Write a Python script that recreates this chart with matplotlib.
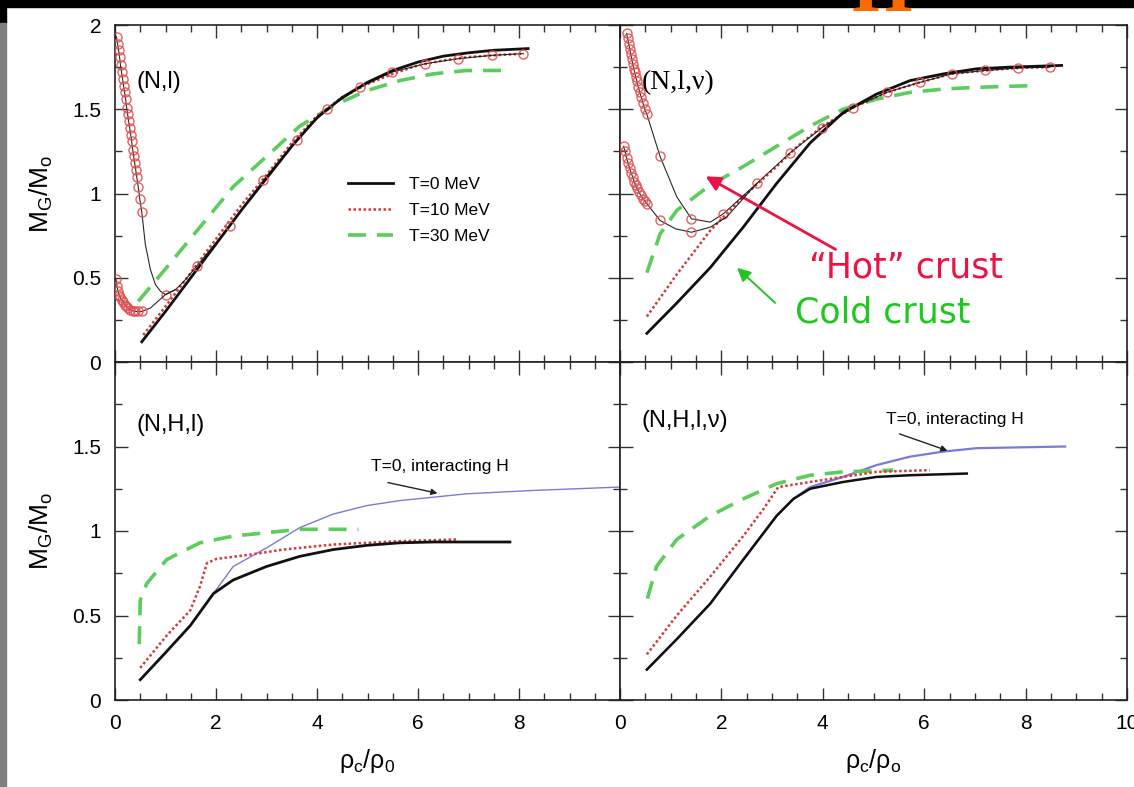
import numpy as np
import matplotlib
matplotlib.use("Agg")
import matplotlib.pyplot as plt
from matplotlib.patches import Rectangle
from matplotlib.ticker import MultipleLocator

plt.rcParams['font.family'] = ['Liberation Sans', 'DejaVu Sans']
plt.rcParams['mathtext.fontset'] = 'custom'
plt.rcParams['mathtext.rm'] = 'Liberation Sans'
plt.rcParams['mathtext.it'] = 'Liberation Sans'

# ---- (N,l) ----
nl_t0_x = [0.53, 1.0, 1.5, 2.0, 2.5, 3.0, 3.5, 4.0, 4.5, 5.0, 5.5, 6.0, 6.5, 7.0, 7.5, 8.18]
nl_t0_y = [0.12, 0.30, 0.50, 0.70, 0.90, 1.09, 1.28, 1.45, 1.57, 1.66, 1.73, 1.78, 1.815, 1.835, 1.85, 1.86]
nl_t10_x = [0.56, 1.0, 1.5, 2.0, 2.5, 3.0, 3.5, 4.0, 4.5, 5.0, 5.5, 6.0, 6.5, 7.0, 7.5, 8.1]
nl_t10_y = [0.16, 0.33, 0.53, 0.73, 0.93, 1.11, 1.30, 1.46, 1.57, 1.65, 1.71, 1.76, 1.79, 1.81, 1.82, 1.83]
nl_t30_x = [0.46, 1.02, 1.68, 2.34, 3.0, 3.66, 4.32, 4.98, 5.64, 6.3, 6.96, 7.72]
nl_t30_y = [0.36, 0.56, 0.80, 1.04, 1.22, 1.40, 1.52, 1.61, 1.67, 1.71, 1.73, 1.73]
nl_hotA_x = [0.03, 0.05, 0.07, 0.09, 0.11, 0.13, 0.15, 0.17, 0.19, 0.21, 0.23, 0.25,
             0.27, 0.29, 0.31, 0.33, 0.35, 0.37, 0.39, 0.41, 0.43, 0.46, 0.49, 0.53,
             0.6, 0.7, 0.8, 0.9, 1.0, 1.2, 1.4, 1.62, 2.28, 2.94, 3.6, 4.19, 4.85,
             5.48, 6.14, 6.8, 7.46, 8.08]
nl_hotA_y = [1.93, 1.89, 1.85, 1.81, 1.76, 1.72, 1.68, 1.64, 1.60, 1.56, 1.51, 1.47,
             1.43, 1.39, 1.35, 1.31, 1.26, 1.22, 1.18, 1.14, 1.10, 1.04, 0.97, 0.89,
             0.70, 0.55, 0.46, 0.42, 0.40, 0.43, 0.49, 0.57, 0.81, 1.08, 1.32, 1.50, 1.63,
             1.72, 1.77, 1.80, 1.82, 1.83]
nl_hotA_mark = list(range(24)) + [28, 31] + list(range(32, 42))
nl_hotB_x = [0.02, 0.04, 0.06, 0.08, 0.10, 0.13, 0.16, 0.19, 0.22, 0.26, 0.30, 0.35,
             0.40, 0.46, 0.53, 0.7, 0.85, 1.0, 1.2]
nl_hotB_y = [0.49, 0.45, 0.42, 0.40, 0.385, 0.37, 0.355, 0.34, 0.33, 0.32, 0.31, 0.305,
             0.30, 0.30, 0.30, 0.32, 0.36, 0.40, 0.43]
nl_hotB_mark = list(range(15))

# ---- (N,l,nu) ----
nln_t0_x = [0.53, 1.12, 1.78, 2.43, 3.09, 3.75, 4.4, 5.06, 5.72, 6.38, 7.03, 7.69, 8.71]
nln_t0_y = [0.17, 0.35, 0.56, 0.80, 1.06, 1.30, 1.48, 1.59, 1.67, 1.71, 1.74, 1.75, 1.76]
nln_t10_x = [0.53, 1.12, 1.78, 2.43, 3.09, 3.5, 4.0, 4.6, 5.26, 5.92, 6.54, 7.2, 7.85, 8.48]
nln_t10_y = [0.27, 0.52, 0.78, 0.98, 1.16, 1.28, 1.40, 1.51, 1.60, 1.66, 1.71, 1.73, 1.745, 1.75]
nln_t30_x = [0.53, 0.79, 1.12, 1.78, 2.43, 3.09, 3.75, 4.4, 5.06, 5.72, 6.38, 7.03, 8.12]
nln_t30_y = [0.53, 0.76, 0.90, 1.05, 1.16, 1.28, 1.40, 1.50, 1.56, 1.60, 1.62, 1.63, 1.64]
nln_hotA_x = [0.13, 0.15, 0.17, 0.19, 0.21, 0.23, 0.25, 0.27, 0.29, 0.31, 0.33, 0.36,
              0.39, 0.42, 0.45, 0.49, 0.53, 0.79, 1.12, 1.41, 1.78, 2.04, 2.70, 3.35,
              3.98, 4.6, 5.26, 5.92, 6.54, 7.2, 7.85, 8.48]
nln_hotA_y = [1.95, 1.92, 1.89, 1.86, 1.83, 1.80, 1.77, 1.74, 1.72, 1.69, 1.67, 1.63,
              1.60, 1.57, 1.54, 1.50, 1.47, 1.22, 0.98, 0.85, 0.83, 0.88, 1.06, 1.24,
              1.39, 1.51, 1.60, 1.66, 1.71, 1.73, 1.745, 1.75]
nln_hotA_mark = list(range(18)) + [19] + list(range(21, 32))
nln_hotB_x = [0.07, 0.10, 0.13, 0.16, 0.19, 0.22, 0.25, 0.28, 0.31, 0.34, 0.37, 0.41,
              0.45, 0.49, 0.53, 0.79, 1.1, 1.41, 1.78, 2.1, 2.4, 2.7]
nln_hotB_y = [1.28, 1.25, 1.21, 1.18, 1.15, 1.12, 1.10, 1.07, 1.05, 1.03, 1.01, 0.99,
              0.97, 0.955, 0.94, 0.84, 0.79, 0.77, 0.80, 0.86, 0.96, 1.06]
nln_hotB_mark = list(range(16)) + [17]

# ---- (N,H,l) ----
nhl_t0_x = [0.5, 1.0, 1.49, 1.95, 2.34, 3.0, 3.66, 4.32, 4.98, 5.64, 6.3, 7.82]
nhl_t0_y = [0.12, 0.28, 0.44, 0.63, 0.71, 0.79, 0.85, 0.89, 0.915, 0.93, 0.935, 0.935]
nhl_int_x = [1.95, 2.34, 3.0, 3.66, 4.32, 4.98, 5.64, 6.3, 6.96, 8.28, 10.0]
nhl_int_y = [0.63, 0.79, 0.90, 1.02, 1.10, 1.15, 1.18, 1.20, 1.22, 1.24, 1.26]
nhl_t10_x = [0.5, 1.02, 1.49, 1.68, 1.82, 2.01, 2.67, 3.33, 4.32, 5.64, 6.76]
nhl_t10_y = [0.19, 0.38, 0.53, 0.67, 0.81, 0.835, 0.86, 0.89, 0.92, 0.94, 0.95]
nhl_t30_x = [0.48, 0.5, 0.63, 1.02, 1.68, 2.34, 3.0, 3.66, 4.82]
nhl_t30_y = [0.33, 0.59, 0.69, 0.83, 0.93, 0.97, 0.99, 1.01, 1.01]

# ---- (N,H,l,nu) ----
nhln_t0_x = [0.53, 1.12, 1.78, 2.43, 3.09, 3.42, 3.75, 4.4, 5.06, 5.72, 6.84]
nhln_t0_y = [0.18, 0.36, 0.57, 0.83, 1.09, 1.19, 1.25, 1.29, 1.32, 1.33, 1.34]
nhln_int_x = [0.53, 1.12, 1.78, 2.43, 3.09, 3.42, 3.75, 4.4, 5.06, 5.72, 6.38, 7.03, 8.78]
nhln_int_y = [0.18, 0.36, 0.57, 0.83, 1.09, 1.19, 1.26, 1.32, 1.39, 1.44, 1.47, 1.49, 1.50]
nhln_t10_x = [0.53, 1.12, 1.78, 2.43, 2.83, 3.12, 3.75, 4.4, 5.06, 6.11]
nhln_t10_y = [0.27, 0.50, 0.73, 0.97, 1.13, 1.26, 1.29, 1.32, 1.35, 1.36]
nhln_t30_x = [0.54, 0.72, 1.12, 1.78, 2.43, 3.09, 3.75, 4.4, 5.39]
nhln_t30_y = [0.60, 0.79, 0.95, 1.09, 1.19, 1.28, 1.33, 1.35, 1.36]

xticks = [0, 2, 4, 6, 8, 10]
yticks = [0, 0.5, 1, 1.5, 2]

c_black = '#111111'
c_red = '#d23a3a'
c_green = '#5ccd5c'
c_blue = '#7a7ad8'
c_mark = '#e05050'

fig = plt.figure(figsize=(11.34, 7.87), dpi=100)
fig.patch.set_facecolor('white')

W, H = 1134.0, 787.0
def box(x0, y0, x1, y1):
    return [x0 / W, 1 - y1 / H, (x1 - x0) / W, (y1 - y0) / H]

ax_tl = fig.add_axes(box(115, 25, 620, 362))
ax_tr = fig.add_axes(box(620, 25, 1127, 362))
ax_bl = fig.add_axes(box(115, 362, 620, 700))
ax_br = fig.add_axes(box(620, 362, 1127, 700))

for ax in (ax_tl, ax_tr, ax_bl, ax_br):
    ax.set_xlim(0, 10)
    ax.set_ylim(0, 2)
    ax.xaxis.set_major_locator(MultipleLocator(2))
    ax.xaxis.set_minor_locator(MultipleLocator(0.5))
    ax.yaxis.set_major_locator(MultipleLocator(0.5))
    ax.yaxis.set_minor_locator(MultipleLocator(0.25))
    ax.tick_params(which='both', direction='in', top=True, right=True, labelsize=15,
                   width=1.0, color='#333333')
    ax.tick_params(which='major', length=9, pad=10)
    ax.tick_params(which='minor', length=5)
    ax.tick_params(labelbottom=False, labelleft=False)
    for s in ax.spines.values():
        s.set_linewidth(1.2)
        s.set_color('#222222')

ax_tl.tick_params(labelleft=True)
ax_tl.set_yticks(yticks)
ax_tl.set_yticklabels(['0', '0.5', '1', '1.5', '2'])
ax_bl.tick_params(labelleft=True, labelbottom=True)
ax_bl.set_yticks(yticks)
ax_bl.set_yticklabels(['0', '0.5', '1', '1.5', ''])
ax_bl.set_xticks(xticks)
ax_bl.set_xticklabels(['0', '2', '4', '6', '8', ''])
ax_br.tick_params(labelbottom=True)
ax_br.set_xticks(xticks)
ax_br.set_xticklabels(['0', '2', '4', '6', '8', '10'])

ylab = r'M$_\mathrm{G}$/M$_\mathrm{o}$'
ax_tl.set_ylabel(ylab, fontsize=19, labelpad=12)
ax_bl.set_ylabel(ylab, fontsize=19, labelpad=12)
ax_bl.set_xlabel(r'ρ$_\mathrm{c}$/ρ$_\mathrm{0}$', fontsize=18, labelpad=10)
ax_br.set_xlabel(r'ρ$_\mathrm{c}$/ρ$_\mathrm{o}$', fontsize=18, labelpad=10)

hot_kw = dict(color=c_black, lw=0.8, marker='o', ms=6.5, mfc='none', mec=c_mark,
              mew=1.0, alpha=0.9, zorder=4)

# (N,l)
ax_tl.plot(nl_hotA_x, nl_hotA_y, markevery=nl_hotA_mark, **hot_kw)
ax_tl.plot(nl_hotB_x, nl_hotB_y, markevery=nl_hotB_mark, **hot_kw)
ax_tl.plot(nl_t30_x, nl_t30_y, color=c_green, lw=2.6, ls=(0, (5, 3)), label='T=30 MeV', zorder=2)
ax_tl.plot(nl_t10_x, nl_t10_y, color=c_red, lw=1.8, ls=(0, (1, 1)), label='T=10 MeV', zorder=3)
ax_tl.plot(nl_t0_x, nl_t0_y, color=c_black, lw=2.0, label='T=0 MeV', zorder=3)
h, l = ax_tl.get_legend_handles_labels()
ax_tl.legend(h[::-1], l[::-1], loc='upper left', bbox_to_anchor=(0.43, 0.595), frameon=False,
             fontsize=12.5, handlelength=2.6, handletextpad=0.9, labelspacing=0.62)
ax_tl.text(0.42, 1.66, '(N,l)', fontsize=17, va='center', ha='left')

# (N,l,nu)
ax_tr.plot(nln_hotA_x, nln_hotA_y, markevery=nln_hotA_mark, **hot_kw)
ax_tr.plot(nln_hotB_x, nln_hotB_y, markevery=nln_hotB_mark, **hot_kw)
ax_tr.plot(nln_t30_x, nln_t30_y, color=c_green, lw=2.6, ls=(0, (5, 3)), zorder=2)
ax_tr.plot(nln_t10_x, nln_t10_y, color=c_red, lw=1.8, ls=(0, (1, 1)), zorder=3)
ax_tr.plot(nln_t0_x, nln_t0_y, color=c_black, lw=2.0, zorder=3)
ax_tr.text(0.42, 1.66, '(N,l,ν)', fontsize=20, va='center', ha='left', family='Liberation Serif')

ax_tr.annotate('', xy=(1.64, 1.11), xytext=(4.30, 0.66),
               arrowprops=dict(arrowstyle='-|>', color='#ee1144', lw=2.0, mutation_scale=22))
ax_tr.annotate('', xy=(2.27, 0.57), xytext=(3.10, 0.34),
               arrowprops=dict(arrowstyle='-|>', color='#22c422', lw=1.4, mutation_scale=20))
ax_tr.text(3.72, 0.56, '“Hot” crust', fontsize=25, color='#ee1144', va='center', ha='left',
           family='DejaVu Sans')
ax_tr.text(3.45, 0.295, 'Cold crust', fontsize=25, color='#1ec81e', va='center', ha='left',
           family='DejaVu Sans')

# (N,H,l)
ax_bl.plot(nhl_int_x, nhl_int_y, color=c_blue, lw=1.0, zorder=2)
ax_bl.plot(nhl_t30_x, nhl_t30_y, color=c_green, lw=2.6, ls=(0, (5, 3)), zorder=2)
ax_bl.plot(nhl_t10_x, nhl_t10_y, color=c_red, lw=1.8, ls=(0, (1, 1)), zorder=3)
ax_bl.plot(nhl_t0_x, nhl_t0_y, color=c_black, lw=2.0, zorder=3)
ax_bl.text(0.42, 1.63, '(N,H,l)', fontsize=17, va='center', ha='left')
ax_bl.annotate('T=0, interacting H', xy=(6.44, 1.22), xytext=(6.44, 1.38),
               fontsize=12.5, ha='center', va='center')
ax_bl.annotate('', xy=(6.44, 1.22), xytext=(5.35, 1.29),
               arrowprops=dict(arrowstyle='-|>', color='#222222', lw=1.0, mutation_scale=9))

# (N,H,l,nu)
ax_br.plot(nhln_int_x, nhln_int_y, color=c_blue, lw=1.6, zorder=2)
ax_br.plot(nhln_t30_x, nhln_t30_y, color=c_green, lw=2.6, ls=(0, (5, 3)), zorder=2)
ax_br.plot(nhln_t10_x, nhln_t10_y, color=c_red, lw=1.8, ls=(0, (1, 1)), zorder=3)
ax_br.plot(nhln_t0_x, nhln_t0_y, color=c_black, lw=1.8, zorder=3)
ax_br.text(0.42, 1.65, '(N,H,l,ν)', fontsize=17, va='center', ha='left')
ax_br.annotate('T=0, interacting H', xy=(6.51, 1.47), xytext=(6.61, 1.66),
               fontsize=12.5, ha='center', va='center')
ax_br.annotate('', xy=(6.51, 1.47), xytext=(5.46, 1.58),
               arrowprops=dict(arrowstyle='-|>', color='#222222', lw=1.0, mutation_scale=9))

# slide frame: dark band on top, grey strip on the left
fig.patches.append(Rectangle((0, 1 - 7 / H), 1, 7 / H, transform=fig.transFigure,
                             color='black', zorder=10))
fig.patches.append(Rectangle((0, 1 - 23 / H), 6 / W, 16 / H, transform=fig.transFigure,
                             color='black', zorder=10))
fig.patches.append(Rectangle((0, 0), 6 / W, 1 - 23 / H, transform=fig.transFigure,
                             color='#7f7f7f', zorder=10))
fig.text(882 / W, 1 - 11 / H, 'H', fontsize=56, color='#ff6a00', family='Liberation Serif',
         weight='bold', ha='center', va='baseline', zorder=11)

fig.savefig('out.png', dpi=100)
